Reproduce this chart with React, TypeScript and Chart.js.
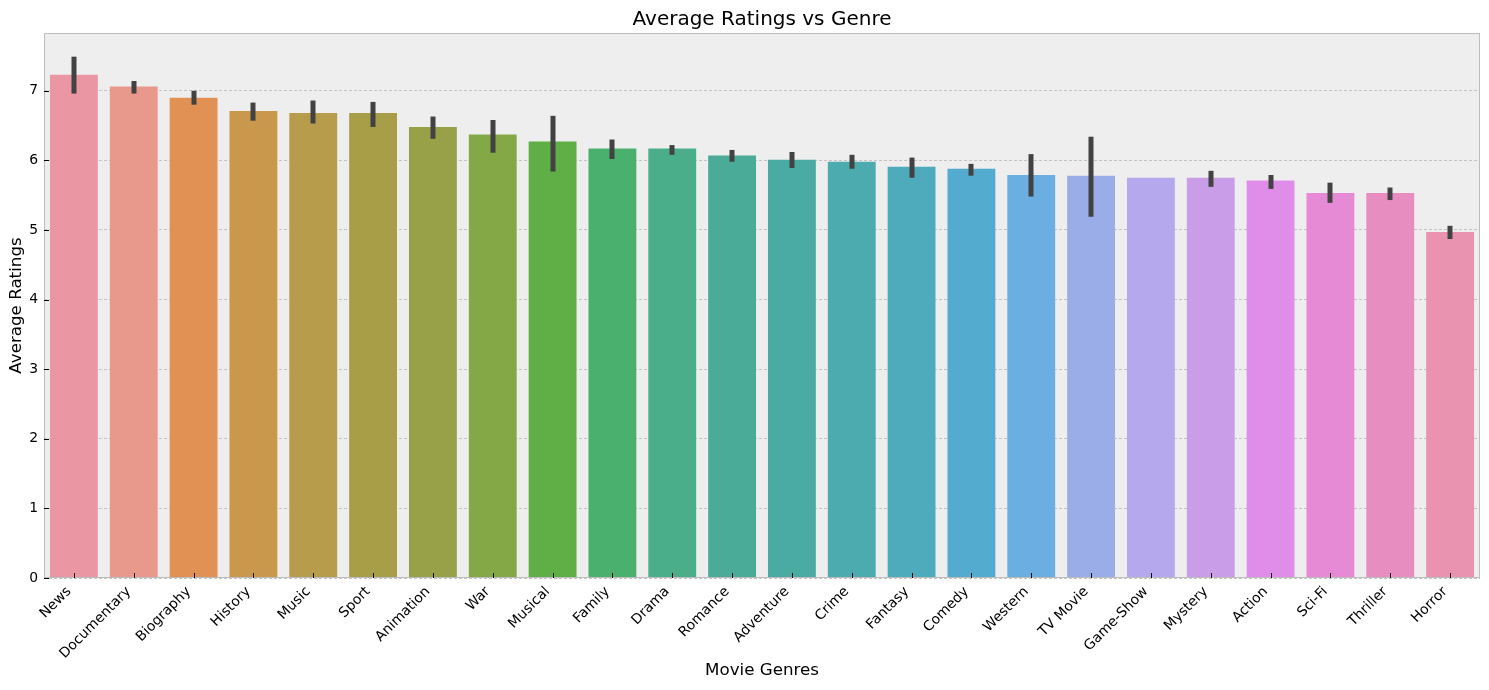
import React, { useEffect, useRef } from "react";
import { Chart, registerables } from "chart.js";

Chart.register(...registerables);

const genres = [
  "News", "Documentary", "Biography", "History", "Music", "Sport", "Animation", "War",
  "Musical", "Family", "Drama", "Romance", "Adventure", "Crime", "Fantasy", "Comedy",
  "Western", "TV Movie", "Game-Show", "Mystery", "Action", "Sci-Fi", "Thriller", "Horror",
];

const avgRatings = [
  7.23, 7.06, 6.9, 6.71, 6.68, 6.68, 6.48, 6.37, 6.27, 6.17, 6.17, 6.07,
  6.01, 5.98, 5.91, 5.88, 5.79, 5.78, 5.75, 5.75, 5.71, 5.53, 5.53, 4.97,
];

const ciLow: (number | null)[] = [
  6.96, 6.96, 6.8, 6.57, 6.53, 6.48, 6.31, 6.11, 5.84, 6.02, 6.08, 5.98,
  5.89, 5.88, 5.75, 5.78, 5.48, 5.19, null, 5.62, 5.59, 5.39, 5.43, 4.87,
];

const ciHigh: (number | null)[] = [
  7.49, 7.14, 7.0, 6.83, 6.86, 6.84, 6.63, 6.58, 6.64, 6.3, 6.22, 6.15,
  6.12, 6.08, 6.04, 5.95, 6.09, 6.34, null, 5.85, 5.79, 5.68, 5.61, 5.06,
];

const barColors = [
  "#ea96a3", "#e8998b", "#e19153", "#ca984d", "#b79c4b", "#a89e48", "#99a148", "#85a847",
  "#5fae46", "#4ab06e", "#4aae8a", "#4aab98", "#4aaaa4", "#4babae", "#4eabbc", "#53abcf",
  "#6aaee2", "#9aade8", "#b6a8ec", "#ca9de8", "#df8de9", "#e78ad6", "#e78dc0", "#e993b1",
];

const yTicks = [0, 1, 2, 3, 4, 5, 6, 7];

const FONT = "'DejaVu Sans', sans-serif";

const decorPlugin = {
  id: "decor",
  beforeDraw(chart: any) {
    const { ctx, chartArea } = chart;
    ctx.save();
    ctx.fillStyle = "#eeeeee";
    ctx.fillRect(chartArea.left, chartArea.top, chartArea.right - chartArea.left, chartArea.bottom - chartArea.top);
    ctx.restore();
  },
  afterDatasetsDraw(chart: any) {
    const { ctx, chartArea } = chart;
    const meta = chart.getDatasetMeta(0);
    const y = chart.scales.y;
    ctx.save();
    ctx.strokeStyle = "#424242";
    ctx.lineWidth = 5;
    ctx.lineCap = "butt";
    meta.data.forEach((bar: any, i: number) => {
      const lo = ciLow[i];
      const hi = ciHigh[i];
      if (lo == null || hi == null) return;
      const x = Math.round(bar.x);
      ctx.beginPath();
      ctx.moveTo(x, y.getPixelForValue(lo));
      ctx.lineTo(x, y.getPixelForValue(hi));
      ctx.stroke();
    });
    // spines
    ctx.strokeStyle = "#bcbcbc";
    ctx.lineWidth = 1;
    ctx.strokeRect(chartArea.left + 0.5, chartArea.top + 0.5, chartArea.right - chartArea.left - 1, chartArea.bottom - chartArea.top - 1);
    // inward ticks
    ctx.strokeStyle = "#000000";
    ctx.lineWidth = 1;
    meta.data.forEach((bar: any) => {
      const x = Math.round(bar.x) + 0.5;
      ctx.beginPath();
      ctx.moveTo(x, chartArea.bottom);
      ctx.lineTo(x, chartArea.bottom - 5);
      ctx.stroke();
    });
    yTicks.forEach((v) => {
      const py = Math.round(y.getPixelForValue(v)) + 0.5;
      ctx.beginPath();
      ctx.moveTo(chartArea.left, py);
      ctx.lineTo(chartArea.left + 5, py);
      ctx.stroke();
    });
    // rotated x tick labels (matplotlib style: bbox right/top anchored at tick)
    ctx.fillStyle = "#000000";
    ctx.font = `13.9px ${FONT}`;
    const h = 16;
    const top = chartArea.bottom + 5;
    meta.data.forEach((bar: any, i: number) => {
      ctx.save();
      ctx.translate(bar.x, top + h * Math.SQRT1_2);
      ctx.rotate(-Math.PI / 4);
      ctx.textAlign = "right";
      ctx.textBaseline = "bottom";
      ctx.fillText(genres[i], 0, 0);
      ctx.restore();
    });
    // title
    ctx.fillStyle = "#000000";
    ctx.font = `20px ${FONT}`;
    ctx.textAlign = "center";
    ctx.textBaseline = "alphabetic";
    ctx.fillText("Average Ratings vs Genre", (chartArea.left + chartArea.right) / 2, 25);
    ctx.restore();
  },
};

export default function App() {
  const canvasRef = useRef<HTMLCanvasElement | null>(null);

  useEffect(() => {
    document.body.style.margin = "0";
    const canvas = canvasRef.current;
    if (!canvas) return;
    const chart = new Chart(canvas, {
      type: "bar",
      data: {
        labels: genres,
        datasets: [
          {
            data: avgRatings,
            backgroundColor: barColors,
            borderWidth: 0,
            barPercentage: 0.8,
            categoryPercentage: 1,
          },
        ],
      },
      options: {
        animation: false,
        responsive: false,
        maintainAspectRatio: false,
        layout: { padding: { top: 33, left: 0, right: 9, bottom: 0 } },
        plugins: {
          legend: { display: false },
          tooltip: { enabled: false },
          title: { display: false },
        },
        scales: {
          x: {
            grid: { display: false, drawTicks: false },
            border: { display: false },
            ticks: { display: false, autoSkip: false },
            title: {
              display: true,
              text: "Movie Genres",
              color: "#000000",
              font: { family: FONT, size: 16.7 },
              padding: { top: 0, bottom: 9 },
            },
            afterFit: (s: any) => {
              s.height = 112;
            },
          },
          y: {
            min: 0,
            max: 7.83,
            grid: {
              color: "#b8b8b8",
              lineWidth: 0.8,
              drawTicks: false,
            },
            border: { display: false, dash: [3, 2] },
            ticks: {
              stepSize: 1,
              padding: 6,
              color: "#000000",
              font: { family: FONT, size: 13.9 },
              callback: (v: any) => (Number.isInteger(v) ? String(v) : ""),
            },
            title: {
              display: true,
              text: "Average Ratings",
              color: "#000000",
              font: { family: FONT, size: 16.7 },
              padding: { top: 7, bottom: 0 },
            },
            afterFit: (s: any) => {
              s.width = 44;
            },
          },
        },
      },
      plugins: [decorPlugin],
    });
    return () => chart.destroy();
  }, []);

  return (
    <div style={{ position: "fixed", left: 0, top: 0, width: 1489, height: 690, background: "#ffffff" }}>
      <canvas ref={canvasRef} width={1489} height={690} style={{ width: 1489, height: 690 }} />
    </div>
  );
}
